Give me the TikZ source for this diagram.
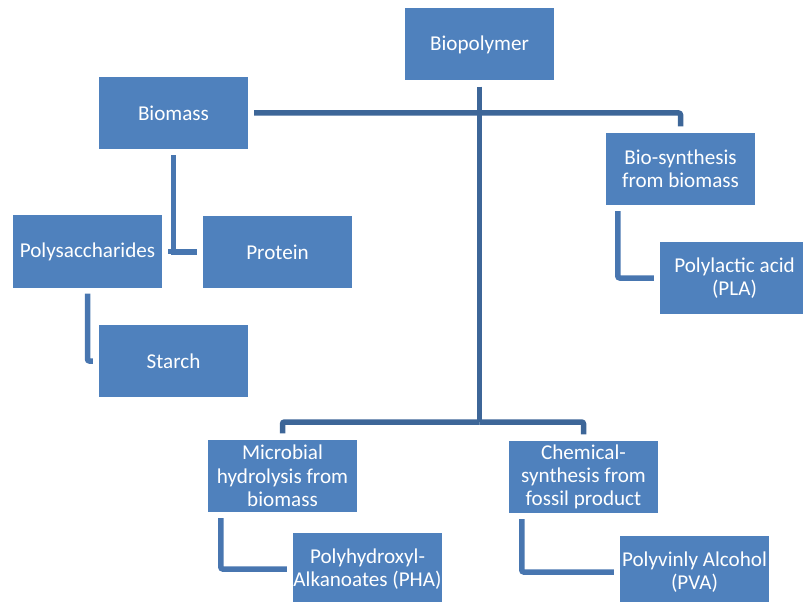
\documentclass[tikz,border=0pt]{standalone}
\usepackage{fontspec}
\setmainfont{Carlito}
\definecolor{boxblue}{HTML}{4F81BD}
\definecolor{mainline}{HTML}{3D6698}
\definecolor{subline}{HTML}{4876B0}
\tikzset{
  box/.style={fill=boxblue, minimum width=149bp, minimum height=72bp, inner sep=0pt,
    text=white, align=center, font=\fontsize{21.2}{23.4}\selectfont},
  mainconn/.style={draw=mainline, line width=5.5bp, rounded corners=2bp, shorten <=6bp, shorten >=6.5bp},
  subconn/.style={draw=subline, line width=5.5bp, rounded corners=2bp, shorten <=6bp, shorten >=6bp}
}
\begin{document}
\begin{tikzpicture}[x=1bp,y=-1bp]
\useasboundingbox (0,0) rectangle (803,602);
\node[box] (bp) at (479.5,44.5) {Biopolymer};
\node[box] (biomass) at (173.5,113) {Biomass};
\node[box] (poly) at (87.5,251.5) {Polysaccharides};
\node[box] (protein) at (277.5,252) {Protein};
\node[box] (starch) at (173.5,361) {Starch};
\node[box] (biosyn) at (680.5,169) {Bio-synthesis\\from biomass};
\node[box] (pla) at (734.5,278) {Polylactic acid\\(PLA)};
\node[box] (micro) at (282.5,476) {Microbial\\hydrolysis from\\biomass};
\node[box] (chem) at (583.5,477) {Chemical-\\synthesis from\\fossil product};
\node[box] (pha) at (367.5,569) {Polyhydroxyl-\\Alkanoates (PHA)};
\node[box] (pva) at (694.5,572) {Polyvinly Alcohol\\(PVA)};
\coordinate (fork) at (479.5,422);
% main tree
\draw[mainconn, shorten >=0pt] (bp.south) -- (fork);
\draw[mainconn, shorten <=0pt] (fork) -| (micro.north);
\draw[mainconn, shorten <=0pt] (fork) -| (chem.north);
\draw[mainconn] (biomass.east) -| (biosyn.north);
% sub connectors
\draw[subconn, rounded corners=0pt] (biomass.south) |- (protein.west);
\draw[subconn, rounded corners=0pt] (biomass.south) |- (poly.east);
\draw[subconn] (poly.south) |- (starch.west);
\draw[subconn] ([xshift=12bp]biosyn.south west) |- (pla.west);
\draw[subconn] ([xshift=13bp]micro.south west) |- (pha.west);
\draw[subconn] ([xshift=13bp]chem.south west) |- (pva.west);
\end{tikzpicture}
\end{document}
